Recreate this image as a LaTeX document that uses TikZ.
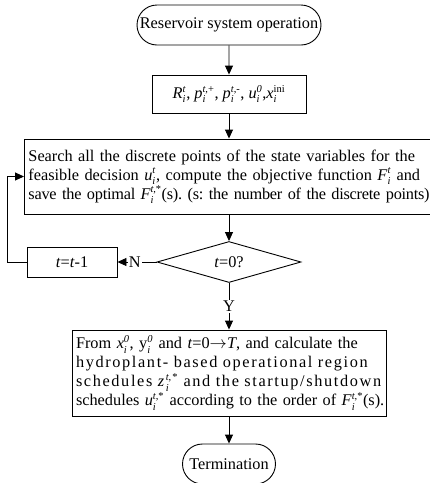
\documentclass[tikz,border=0pt]{standalone}
\usepackage{fontspec}
\setmainfont{Liberation Serif}
\usetikzlibrary{shapes.geometric,shapes.misc,arrows.meta}
\frenchspacing
\newcommand{\ssz}{\fontsize{10.5}{10.5}\selectfont}
\newcommand{\sv}[3]{$\mbox{#1}_{\mbox{\ssz\itshape #2}}^{\mbox{\ssz #3}}$}
\newcommand{\jline}[2][306pt]{\makebox[#1][s]{#2}}
\begin{document}
\begin{tikzpicture}[x=1pt,y=-1pt,line width=0.9pt,
	font=\fontsize{16.3}{19}\selectfont,
	term/.style={draw,rounded rectangle,minimum height=40pt,inner sep=2pt},
	box/.style={draw,rectangle,inner sep=4pt},
	dec/.style={draw,diamond,inner sep=0pt,minimum width=144pt,minimum height=41pt},
	arr/.style={-{Triangle[length=9pt,width=8pt]}},
	lbl/.style={fill=white,inner sep=1pt}]
	\useasboundingbox (0,0) rectangle (430,483);
		\node[term,minimum width=188pt] (v1) at (229,25) {Reservoir system operation};
		\node[box,minimum width=154pt,minimum height=38pt] (v2) at (229,94) {\sv{\textit{R}}{i}{\textit{t}}, \sv{\textit{p}}{i}{\textit{t},+}, \sv{\textit{p}}{i}{\textit{t},-}, \sv{\textit{u}}{i}{\textit{0}},\sv{\textit{x}}{i}{ini}};
		\node[box,text width=410pt,align=left,minimum height=75pt,anchor=west] (v3) at (24,176.5) {\jline[402pt]{Search all the discrete points of the state variables for the}\\
			\jline[402pt]{feasible decision \sv{\textit{u}}{i}{\textit{t}}, compute the objective function \sv{\textit{F}}{i}{\textit{t}} and}\\
			\jline[402pt]{\addfontfeature{LetterSpace=-1.5}save the optimal \sv{\textit{F}}{i}{\textit{t},*}(s). (s: the number of the discrete points)}};
		\node[dec] (v4) at (229,262) {\textit{t}=0?};
		\node[box,minimum width=90pt,minimum height=30pt] (v5) at (72,262) {\textit{t}=\textit{t}-1};
		\node[box,text width=306pt,minimum height=86pt] (v6) at (229,373) {\jline{From \sv{\textit{x}}{i}{\textit{0}}, \sv{y}{i}{\textit{0}} and \textit{t}=0$\rightarrow$\textit{T}, and calculate the}\\
			\jline{\addfontfeature{LetterSpace=10}hydroplant- based operational region}\\
			\jline{\addfontfeature{LetterSpace=10}schedules \sv{\textit{z}}{i}{\textit{t},*} and the startup/shutdown}\\
			\jline{schedules \sv{\textit{u}}{i}{\textit{t},*} according to the order of \sv{\textit{F}}{i}{\textit{t},*}(s).}};
		\node[term,minimum width=97pt] (v7) at (229,464) {Termination};
		\draw[arr] (v1) -- (v2);
		\draw[arr] (v2) -- (v2 |- v3.north);
		\draw[arr] (v4 |- v3.south) -- (v4);
		\draw[arr] (v4) -- node[lbl,pos=0.56] {N} (v5);
		\draw[arr] (v4) -- node[lbl,pos=0.5] {Y} (v6);
		\draw[arr] (v6) -- (v7);
		\draw[arr] (v5.west) -- ++(-19,0) |- (v3.west);
	\end{tikzpicture}
\end{document}
